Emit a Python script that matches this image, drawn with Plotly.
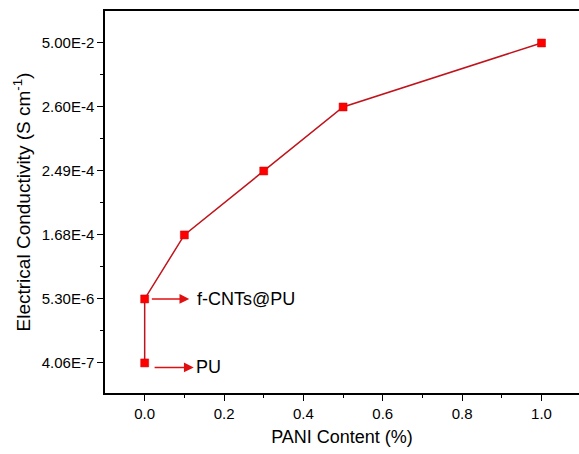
import plotly.graph_objects as go

# Data
pani_content = [0.0, 0.0, 0.1, 0.3, 0.5, 1.0]
conductivity_labels = ["4.06E-7", "5.30E-6", "1.68E-4", "2.49E-4", "2.60E-4", "5.00E-2"]
y_tick_labels = ["4.06E-7", "5.30E-6", "1.68E-4", "2.49E-4", "2.60E-4", "5.00E-2"]
x_tick_vals = [0.0, 0.2, 0.4, 0.6, 0.8, 1.0]
sample_labels = ["f-CNTs@PU", "PU"]

y_pos = [y_tick_labels.index(v) for v in conductivity_labels]

font_family = "Liberation Sans, Arial, sans-serif"

fig = go.Figure()
fig.add_trace(go.Scatter(
    x=pani_content, y=y_pos, mode="lines+markers",
    line=dict(color="#c0141c", width=1.5),
    marker=dict(symbol="square", size=8, color="#ff0000", line=dict(color="#d00000", width=0.5)),
    showlegend=False, cliponaxis=False,
))

# Labels with arrows pointing to the text
label_specs = [
    dict(text=sample_labels[0], x0=0.018, xt=0.13, y=1.0, gap=7),
    dict(text=sample_labels[1], x0=0.025, xt=0.126, y=-0.07, gap=1),
]
for spec in label_specs:
    fig.add_annotation(
        x=spec["x0"], y=spec["y"], ax=spec["xt"], ay=spec["y"],
        xref="x", yref="y", axref="x", ayref="y",
        text=spec["text"], xanchor="left", showarrow=True, arrowside="start",
        arrowhead=2, startarrowhead=2, startarrowsize=1.3, arrowsize=1.3,
        startstandoff=spec["gap"],
        arrowwidth=1.5, arrowcolor="#e01010", borderpad=0,
        font=dict(family=font_family, size=18, color="black"),
    )

fig.update_layout(
    width=579, height=454,
    margin=dict(l=105, r=0, t=11, b=61),
    plot_bgcolor="white", paper_bgcolor="white",
    font=dict(family=font_family, color="black"),
    xaxis=dict(
        range=[-0.1, 1.0945], tickvals=x_tick_vals, ticktext=[f"{v:.1f}" for v in x_tick_vals],
        ticks="outside", ticklen=6, tickwidth=1.2, tickcolor="black",
        showline=True, linecolor="black", linewidth=1.5, mirror=True,
        showgrid=False, zeroline=False,
        tickfont=dict(size=15),
        minor=dict(tickvals=[0.1, 0.3, 0.5, 0.7, 0.9], ticks="outside", ticklen=3, tickcolor="black", showgrid=False),
        title=dict(text="PANI Content (%)", font=dict(size=18), standoff=10),
    ),
    yaxis=dict(
        range=[-0.47, 5.5], tickvals=list(range(len(y_tick_labels))), ticktext=y_tick_labels,
        ticks="outside", ticklen=6, tickwidth=1.2, tickcolor="black",
        showline=True, linecolor="black", linewidth=1.5, mirror=False,
        showgrid=False, zeroline=False,
        tickfont=dict(size=15),
        minor=dict(tickvals=[0.5, 1.5, 2.5, 3.5, 4.5], ticks="outside", ticklen=3, tickcolor="black", showgrid=False),
        title=dict(text="Electrical Conductivity (S cm<sup>-1</sup>)", font=dict(size=19), standoff=6),
    ),
)

fig.write_html("out.html")
